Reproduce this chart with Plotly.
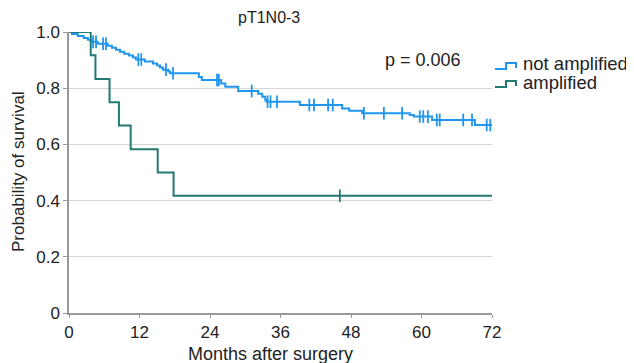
import numpy as np
import plotly.graph_objects as go

# ---- data ----
na_months = [0, 0.5, 1.5, 2.5, 3.2, 3.7, 4.9, 6.6, 7.3, 8.0, 8.7, 9.4, 10.2, 10.9, 11.4,
             12.9, 14.3, 15.0, 15.5, 16.0, 16.9, 17.2, 22.1, 22.6, 25.9, 26.6, 28.8,
             32.2, 32.9, 33.4, 33.6, 39.3, 46.5, 47.7, 49.9, 58.0, 58.7, 61.8, 69.1, 72]
na_survival = [1.0, 0.993, 0.986, 0.979, 0.972, 0.965, 0.958, 0.951, 0.944, 0.937, 0.930,
               0.923, 0.916, 0.909, 0.902, 0.895, 0.888, 0.881, 0.874, 0.866, 0.859, 0.853,
               0.840, 0.829, 0.817, 0.805, 0.790, 0.780, 0.770, 0.758, 0.752, 0.740, 0.728,
               0.720, 0.711, 0.705, 0.699, 0.687, 0.669, 0.669]
na_censored = [4.1, 4.6, 5.8, 6.3, 11.8, 12.3, 16.5, 17.7, 25.2, 25.5, 31.1, 33.8, 34.3,
               35.4, 40.9, 41.7, 44.1, 44.9, 50.2, 53.6, 56.7, 59.7, 60.3, 61.1, 62.6,
               63.1, 67.1, 68.6, 71.1, 71.7]

amp_months = [0, 3.7, 4.5, 6.9, 8.5, 10.5, 15.1, 17.8, 72]
amp_survival = [1.0, 0.917, 0.833, 0.75, 0.667, 0.583, 0.5, 0.417, 0.417]
amp_censored = [46.1]

x_ticks = [0, 12, 24, 36, 48, 60, 72]
y_ticks = [0, 0.2, 0.4, 0.6, 0.8, 1.0]
y_ticklabels = ["0", "0.2", "0.4", "0.6", "0.8", "1.0"]

series_names = ["not amplified", "amplified"]
title_text = "pT1N0-3"
p_text = "p = 0.006"

BLUE = "#2196f0"
TEAL = "#227a72"
FONT = "Liberation Sans, Arial, sans-serif"

# plot-area geometry in page pixels (page body adds an 8px offset)
PX_L, PX_R, PX_T, PX_B = 69, 492, 32, 313


def px_x(px):
    return (px - PX_L) / (PX_R - PX_L)


def px_y(py):
    return (PX_B - py) / (PX_B - PX_T)


def step_value(times, surv, t):
    i = np.searchsorted(np.array(times), t, side="right") - 1
    return surv[i]


fig = go.Figure()
for name, tms, sv, cens, col in [
    (series_names[0], na_months, na_survival, na_censored, BLUE),
    (series_names[1], amp_months, amp_survival, amp_censored, TEAL),
]:
    fig.add_trace(go.Scatter(x=tms, y=sv, mode="lines", line=dict(shape="hv", color=col, width=2),
                             name=name, cliponaxis=False, showlegend=False))
    fig.add_trace(go.Scatter(x=cens, y=[step_value(tms, sv, c) for c in cens], mode="markers",
                             marker=dict(symbol="line-ns-open", size=9, color=col,
                                         line=dict(color=col, width=1.8)),
                             showlegend=False, cliponaxis=False))

# custom step-shaped legend
shapes = []
annotations = []
for i, (name, col) in enumerate([(series_names[0], BLUE), (series_names[1], TEAL)]):
    yc = 64 + 18 * i
    path = "M {} {} L {} {} L {} {} L {} {} L {} {}".format(
        px_x(495), px_y(yc + 5), px_x(506), px_y(yc + 5), px_x(506), px_y(yc - 1),
        px_x(516), px_y(yc - 1), px_x(516), px_y(yc + 4))
    shapes.append(dict(type="path", xref="paper", yref="paper", path=path,
                       line=dict(color=col, width=2)))
    annotations.append(dict(text=name, xref="paper", yref="paper", x=px_x(521), y=px_y(yc),
                            xanchor="left", yanchor="middle", showarrow=False,
                            font=dict(size=18.5)))

annotations += [
    dict(text=title_text, xref="paper", yref="paper", x=px_x(269), y=px_y(17), xanchor="center",
         yanchor="middle", showarrow=False, font=dict(size=16)),
    dict(text=p_text, xref="paper", yref="paper", x=px_x(423), y=px_y(60), xanchor="center",
         yanchor="middle", showarrow=False, font=dict(size=18)),
    dict(text="Months after surgery", xref="paper", yref="paper", x=px_x(270), y=px_y(354),
         xanchor="center", yanchor="middle", showarrow=False, font=dict(size=18)),
    dict(text="Probability of survival", xref="paper", yref="paper", x=px_x(18), y=px_y(172),
         xanchor="center", yanchor="middle", textangle=-90, showarrow=False, font=dict(size=17)),
]

fig.update_layout(
    width=634, height=363,
    margin=dict(l=PX_L - 8, r=634 - (PX_R - 8), t=PX_T - 8, b=363 - (PX_B - 8)),
    paper_bgcolor="white", plot_bgcolor="white",
    font=dict(family=FONT, size=16, color="#222"),
    showlegend=False,
    shapes=shapes,
    annotations=annotations,
    xaxis=dict(range=[0, 72], tickvals=x_ticks, ticks="outside", ticklen=3, tickcolor="#999",
               showline=True, linecolor="#999", linewidth=1.5, showgrid=False, zeroline=False,
               tickfont=dict(size=17)),
    yaxis=dict(range=[0, 1.0], tickvals=y_ticks, ticktext=y_ticklabels, ticks="outside",
               ticklen=4, tickcolor="#999", showline=True, linecolor="#999", linewidth=1.5,
               showgrid=True, gridcolor="#d6d6d6", gridwidth=1, zeroline=False,
               tickfont=dict(size=17)),
)

fig.write_html("out.html")
